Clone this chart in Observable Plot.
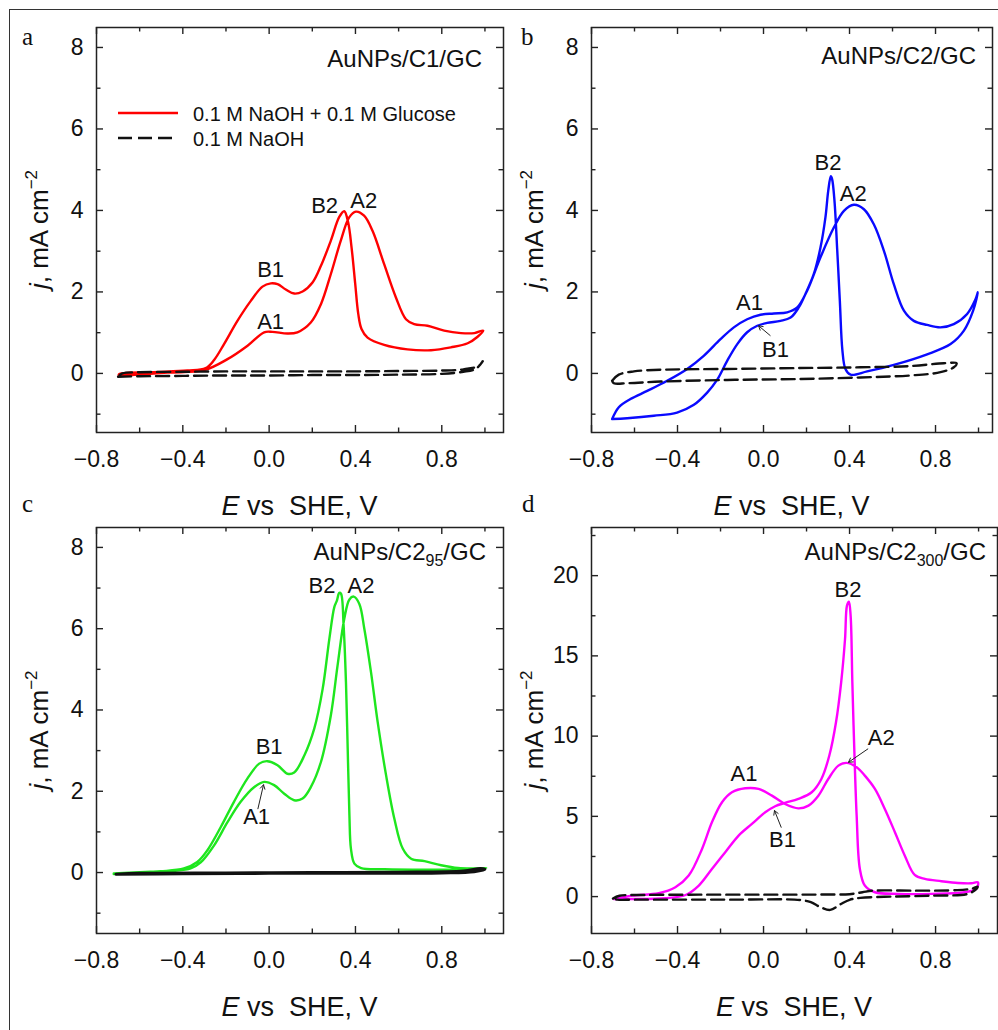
<!DOCTYPE html>
<html><head><meta charset="utf-8">
<script src="https://cdn.jsdelivr.net/npm/d3@7"></script>
<script src="https://cdn.jsdelivr.net/npm/@observablehq/plot@0.6"></script>
<style>
body{margin:0;background:#fff;}
#fig{position:relative;width:998px;height:1030px;overflow:hidden;background:#fff;}
#border{position:absolute;left:9px;top:9px;width:1010px;height:1040px;border:1.5px solid #333;box-sizing:border-box;}
.panel{position:absolute;}
.panel svg{overflow:visible;display:block;}
.panel text{white-space:pre;}
</style></head><body><div id="fig"><div id="border"></div></div>
<script>
// ---- tick values ----
const xMajor = [-0.8, -0.4, 0, 0.4, 0.8];
const xMinor = [-0.6, -0.2, 0.2, 0.6, 1.0];
const yMajorABC = [0, 2, 4, 6, 8];
const yMinorABC = [-1, 1, 3, 5, 7];
const yMajorD = [0, 5, 10, 15, 20];
const yMinorD = [2.5, 7.5, 12.5, 17.5, 22.5];

// ---- panel a: AuNPs/C1/GC  [E (V), j (mA cm-2)] ----
const aGlucose = [
  [-0.696,-0.06],[-0.471,0.02],[-0.301,0.08],[-0.193,0.35],[-0.100,0.68],[-0.023,1.01],[0.015,1.02],[0.085,0.98],
  [0.131,1.01],[0.193,1.25],[0.240,1.70],[0.286,2.44],[0.332,3.26],[0.371,3.83],[0.402,3.97],[0.440,3.87],
  [0.479,3.50],[0.533,2.68],[0.587,1.87],[0.634,1.33],[0.672,1.21],[0.734,1.17],[0.811,1.05],[0.889,0.99],
  [0.951,0.99],[0.992,1.05],
  [0.966,0.90],[0.920,0.74],[0.842,0.64],[0.750,0.57],[0.641,0.59],[0.533,0.70],[0.456,0.88],[0.428,1.09],
  [0.413,1.46],[0.399,2.19],[0.382,3.09],[0.366,3.71],[0.348,3.98],[0.325,3.84],[0.286,3.26],[0.240,2.64],
  [0.201,2.23],[0.155,2.01],[0.116,1.96],[0.077,2.06],[0.039,2.19],[0.008,2.21],[-0.031,2.13],[-0.085,1.78],
  [-0.147,1.29],[-0.209,0.72],[-0.255,0.33],[-0.294,0.13],[-0.379,0.07],[-0.549,0.03],[-0.696,-0.02],[-0.696,-0.06]
];
const aNaOH = [
  [-0.70,-0.08],[-0.6,-0.07],[-0.4,-0.06],[-0.2,-0.05],[0,-0.05],[0.2,-0.04],[0.4,-0.04],[0.6,-0.03],[0.8,-0.01],
  [0.9,0.04],[0.96,0.12],[0.99,0.30],[0.97,0.18],[0.9,0.10],[0.8,0.07],[0.6,0.06],[0.4,0.05],[0.2,0.05],[0,0.05],
  [-0.2,0.05],[-0.4,0.04],[-0.6,0.03],[-0.68,0.0],[-0.70,-0.08]
];
const aPeaks = [
  {label:"B2",E:0.257,j:3.94},{label:"A2",E:0.438,j:4.07},{label:"B1",E:0.007,j:2.37},{label:"A1",E:0.007,j:1.10}
];
const aArrows = [];

// ---- panel b: AuNPs/C2/GC ----
const bGlucose = [
  [-0.704,-1.12],[-0.673,-0.83],[-0.619,-0.63],[-0.541,-0.43],[-0.448,-0.18],[-0.355,0.11],[-0.278,0.43],[-0.200,0.84],
  [-0.138,1.13],[-0.076,1.33],[-0.014,1.44],[0.048,1.47],[0.110,1.50],[0.157,1.62],[0.203,2.03],[0.265,2.85],
  [0.327,3.58],[0.374,3.99],[0.420,4.14],[0.467,4.03],[0.513,3.66],[0.560,3.01],[0.606,2.19],[0.653,1.54],
  [0.699,1.29],[0.761,1.19],[0.823,1.13],[0.885,1.21],[0.947,1.46],[0.986,1.82],[0.997,1.99],
  [0.975,1.54],[0.932,1.05],[0.870,0.72],[0.761,0.47],[0.606,0.21],[0.482,0.05],[0.405,-0.03],[0.381,0.11],
  [0.367,0.56],[0.355,1.78],[0.343,3.01],[0.330,4.24],[0.319,4.77],[0.313,4.84],[0.301,4.48],[0.288,3.83],
  [0.265,3.09],[0.234,2.44],[0.195,1.95],[0.164,1.62],[0.126,1.37],[0.079,1.29],[0.017,1.24],[-0.029,1.17],
  [-0.076,1.01],[-0.122,0.72],[-0.169,0.31],[-0.216,-0.16],[-0.262,-0.47],[-0.324,-0.77],[-0.402,-0.96],
  [-0.510,-1.04],[-0.634,-1.10],[-0.704,-1.12]
];
const bNaOH = [
  [-0.704,-0.18],[-0.673,-0.03],[-0.603,0.05],[-0.479,0.09],[-0.169,0.11],[0.141,0.13],[0.451,0.15],[0.684,0.18],
  [0.839,0.25],[0.898,0.25],[0.885,0.15],[0.823,0.03],[0.684,-0.05],[0.451,-0.10],[0.141,-0.14],[-0.169,-0.16],
  [-0.479,-0.20],[-0.634,-0.24],[-0.696,-0.24],[-0.704,-0.18]
];
const bPeaks = [
  {label:"B2",E:0.300,j:4.99},{label:"A2",E:0.417,j:4.24},{label:"A1",E:-0.065,j:1.56},{label:"B1",E:0.056,j:0.41}
];
const bArrows = [{E1:0.031,j1:0.93,E2:-0.023,j2:1.17}];

// ---- panel c: AuNPs/C2_95/GC ----
const cGlucose = [
  [-0.720,-0.02],[-0.550,0.02],[-0.441,0.04],[-0.364,0.10],[-0.317,0.25],[-0.255,0.67],[-0.193,1.24],[-0.132,1.74],
  [-0.070,2.10],[-0.023,2.23],[0.023,2.15],[0.070,1.94],[0.116,1.78],[0.155,1.82],[0.193,2.10],[0.240,2.72],
  [0.286,3.87],[0.317,5.09],[0.348,6.24],[0.372,6.72],[0.392,6.79],[0.418,6.61],[0.441,6.00],[0.472,4.93],
  [0.503,3.70],[0.542,2.39],[0.580,1.33],[0.619,0.59],[0.658,0.34],[0.720,0.28],[0.797,0.18],[0.875,0.11],
  [0.952,0.10],[1.006,0.11],
  [0.921,0.08],[0.766,0.07],[0.534,0.08],[0.426,0.11],[0.395,0.22],[0.379,0.59],[0.372,1.41],[0.364,3.05],
  [0.356,4.68],[0.345,6.08],[0.333,6.86],[0.325,6.88],[0.314,6.69],[0.302,6.53],[0.279,5.75],[0.248,4.52],
  [0.209,3.54],[0.163,2.88],[0.116,2.46],[0.085,2.43],[0.039,2.64],[-0.008,2.74],[-0.046,2.68],[-0.101,2.31],
  [-0.163,1.74],[-0.224,1.12],[-0.286,0.55],[-0.333,0.26],[-0.395,0.10],[-0.503,0.03],[-0.627,-0.01],[-0.720,-0.04]
];
const cNaOH = [
  [-0.71,-0.04],[-0.4,-0.03],[0,-0.02],[0.4,-0.02],[0.8,-0.01],[0.95,0.02],[1.0,0.08],
  [0.98,0.10],[0.9,0.04],[0.6,0.01],[0.2,0.0],[-0.2,-0.01],[-0.6,-0.02],[-0.71,-0.04]
];
const cPeaks = [
  {label:"B2",E:0.245,j:6.88},{label:"A2",E:0.426,j:6.88},{label:"B1",E:0.0,j:2.92},{label:"A1",E:-0.058,j:1.20}
];
const cArrows = [{E1:-0.052,j1:1.57,E2:-0.026,j2:2.16}];

// ---- panel d: AuNPs/C2_300/GC ----
const dGlucose = [
  [-0.696,-0.15],[-0.611,0.06],[-0.487,0.21],[-0.410,0.58],[-0.348,1.31],[-0.286,2.97],[-0.240,4.63],[-0.193,5.88],
  [-0.147,6.50],[-0.085,6.75],[-0.023,6.71],[0.039,6.29],[0.100,5.77],[0.162,5.50],[0.209,5.67],[0.255,6.29],
  [0.301,7.33],[0.348,8.16],[0.386,8.33],[0.433,8.06],[0.471,7.54],[0.518,6.71],[0.564,5.46],[0.611,4.01],
  [0.657,2.55],[0.703,1.35],[0.750,1.10],[0.827,0.96],[0.904,0.85],[0.966,0.83],[0.997,0.89],
  [0.989,0.48],[0.935,0.27],[0.781,0.17],[0.626,0.17],[0.518,0.27],[0.471,0.69],[0.448,1.72],[0.433,5.05],
  [0.422,9.20],[0.413,13.35],[0.405,17.51],[0.397,18.38],[0.388,18.13],[0.379,16.05],[0.361,13.35],[0.337,10.86],
  [0.306,8.79],[0.269,7.33],[0.224,6.50],[0.162,6.09],[0.100,5.84],[0.054,5.63],[0.008,5.25],[-0.054,4.53],
  [-0.116,3.80],[-0.178,2.76],[-0.240,1.72],[-0.301,0.69],[-0.363,0.10],[-0.456,-0.10],[-0.611,-0.15],[-0.696,-0.15]
];
const dNaOH = [
  [-0.70,-0.12],[-0.67,0.05],[-0.55,0.10],[-0.3,0.12],[0.0,0.12],[0.3,0.13],[0.40,0.15],[0.46,0.27],[0.51,0.37],
  [0.7,0.37],[0.9,0.40],[0.97,0.50],[0.995,0.62],[0.99,0.48],[0.95,0.17],[0.79,0.06],[0.6,0.0],[0.45,-0.08],
  [0.40,-0.20],[0.36,-0.46],[0.31,-0.83],[0.265,-0.66],[0.22,-0.35],[0.17,-0.21],[-0.14,-0.19],[-0.6,-0.19],
  [-0.68,-0.19],[-0.70,-0.12]
];
const dPeaks = [
  {label:"B2",E:0.393,j:18.69},{label:"A2",E:0.547,j:9.45},{label:"A1",E:-0.091,j:7.23},{label:"B1",E:0.088,j:3.12}
];
const dArrows = [{E1:0.082,j1:4.32,E2:0.051,j2:5.36},{E1:0.485,j1:9.2,E2:0.395,j2:8.37}];

const seriesLabels = ["0.1 M NaOH + 0.1 M Glucose", "0.1 M NaOH"];

const FONT = "'Liberation Sans', Arimo, Arial, sans-serif";
const SERIF = "'Liberation Serif', 'Times New Roman', serif";
const INK = "#111";
const fmtX = d3.format(".1f");
const rows = arr => arr.map(([E, j]) => ({E, j}));

function panel(cfg) {
  const {left, top, width, height, mL, mR, mT, mB, xDomain, yDomain, yMajor, yMinor,
         glucose, naoh, color, naohSolid, peaks, arrows, title, sub, letter, letterPos, legend} = cfg;
  const fw = width - mL - mR, fh = height - mT - mB;
  const T = 7, t = 4.5, sw = 1.4, tc = "#222";
  const svg = Plot.plot({
    width, height, marginLeft: mL, marginRight: mR, marginTop: mT, marginBottom: mB,
    x: {domain: xDomain, axis: null},
    y: {domain: yDomain, axis: null},
    style: {background: "transparent", overflow: "visible", fontFamily: FONT, fontSize: "23px", color: INK},
    marks: [
      Plot.line(rows(glucose), {x: "E", y: "j", stroke: color, strokeWidth: 2.4, curve: "catmull-rom"}),
      Plot.line(rows(naoh), {x: "E", y: "j", stroke: "#111", strokeWidth: naohSolid ? 3 : 2.4,
        strokeDasharray: naohSolid ? null : "13,6", curve: "catmull-rom"}),
      // inward ticks on all four sides
      Plot.tickX(xMajor, {x: d => d, insetTop: fh - T, stroke: tc, strokeWidth: sw}),
      Plot.tickX(xMinor, {x: d => d, insetTop: fh - t, stroke: tc, strokeWidth: sw}),
      Plot.tickX(xMajor, {x: d => d, insetBottom: fh - T, stroke: tc, strokeWidth: sw}),
      Plot.tickX(xMinor, {x: d => d, insetBottom: fh - t, stroke: tc, strokeWidth: sw}),
      Plot.tickY(yMajor, {y: d => d, insetRight: fw - T, stroke: tc, strokeWidth: sw}),
      Plot.tickY(yMinor, {y: d => d, insetRight: fw - t, stroke: tc, strokeWidth: sw}),
      Plot.tickY(yMajor, {y: d => d, insetLeft: fw - T, stroke: tc, strokeWidth: sw}),
      Plot.tickY(yMinor, {y: d => d, insetLeft: fw - t, stroke: tc, strokeWidth: sw}),
      Plot.frame({stroke: tc, strokeWidth: 1.5}),
      Plot.text(xMajor, {x: d => d, frameAnchor: "bottom", dy: 34, lineAnchor: "bottom", text: d => fmtX(d), fontSize: 23, fill: INK}),
      Plot.text(yMajor, {y: d => d, frameAnchor: "left", dx: -13, textAnchor: "end", text: d => String(d), fontSize: 23, fill: INK}),
      Plot.text(peaks, {x: "E", y: "j", text: "label", lineAnchor: "bottom", fontSize: 22, fill: INK}),
      Plot.arrow(arrows, {x1: "E1", y1: "j1", x2: "E2", y2: "j2", stroke: "#222", strokeWidth: 1, headLength: 7})
    ]
  });
  const s = d3.select(svg);
  // x axis title
  const xl = s.append("text").attr("x", mL + fw / 2).attr("y", mT + fh + 83)
    .attr("text-anchor", "middle").attr("font-size", 27).attr("fill", INK).attr("font-family", FONT);
  xl.append("tspan").attr("font-style", "italic").text("E");
  xl.append("tspan").text(" vs  SHE, V");
  // y axis title
  const yl = s.append("text").attr("transform", `translate(${mL - 48},${mT + fh / 2}) rotate(-90)`)
    .attr("text-anchor", "middle").attr("font-size", 26).attr("fill", INK).attr("font-family", FONT);
  yl.append("tspan").attr("font-style", "italic").text("j");
  yl.append("tspan").text(", mA cm");
  yl.append("tspan").attr("font-size", 17).attr("dy", -11).text("\u22122");
  // sample title
  const tt = s.append("text").attr("x", mL + fw - title.dx).attr("y", mT + title.dy)
    .attr("text-anchor", "end").attr("font-size", 24).attr("fill", INK).attr("font-family", FONT);
  if (sub) {
    tt.append("tspan").text(title.text);
    tt.append("tspan").attr("font-size", 16).attr("dy", 6).text(sub);
    tt.append("tspan").attr("dy", -6).text("/GC");
  } else {
    tt.text(title.text);
  }
  // panel letter
  s.append("text").attr("x", letterPos[0]).attr("y", letterPos[1]).attr("font-size", 25)
    .attr("text-anchor", "start").attr("font-family", SERIF).attr("fill", INK).text(letter);
  // legend
  if (legend) {
    const g = s.append("g");
    g.append("line").attr("x1", 118).attr("x2", 178).attr("y1", 113).attr("y2", 113)
      .attr("stroke", color).attr("stroke-width", 2.4);
    g.append("text").attr("x", 193).attr("y", 121).attr("font-size", 20).attr("fill", INK)
      .attr("text-anchor", "start").attr("font-family", FONT).text(seriesLabels[0]);
    g.append("line").attr("x1", 118).attr("x2", 175).attr("y1", 138).attr("y2", 138)
      .attr("stroke", "#111").attr("stroke-width", 2.4).attr("stroke-dasharray", "14,6");
    g.append("text").attr("x", 193).attr("y", 146).attr("font-size", 20).attr("fill", INK)
      .attr("text-anchor", "start").attr("font-family", FONT).text(seriesLabels[1]);
  }
  const div = document.createElement("div");
  div.className = "panel";
  div.style.left = left + "px";
  div.style.top = top + "px";
  div.style.width = width + "px";
  div.style.height = height + "px";
  div.appendChild(svg);
  document.getElementById("fig").appendChild(div);
}

panel({left: 0, top: 0, width: 510, height: 515, mL: 96, mR: 7, mT: 27, mB: 83,
  xDomain: [-0.8, 1.086], yDomain: [-1.45, 8.49], yMajor: yMajorABC, yMinor: yMinorABC,
  glucose: aGlucose, naoh: aNaOH, color: "#ff0000", peaks: aPeaks, arrows: aArrows,
  title: {text: "AuNPs/C1/GC", dx: 21, dy: 40}, letter: "a", letterPos: [22, 45], legend: true});

panel({left: 495, top: 0, width: 503, height: 515, mL: 96, mR: 6, mT: 27, mB: 83,
  xDomain: [-0.8, 1.065], yDomain: [-1.45, 8.49], yMajor: yMajorABC, yMinor: yMinorABC,
  glucose: bGlucose, naoh: bNaOH, color: "#0a0aff", peaks: bPeaks, arrows: bArrows,
  title: {text: "AuNPs/C2/GC", dx: 16, dy: 37}, letter: "b", letterPos: [26, 45]});

panel({left: 0, top: 500, width: 510, height: 530, mL: 96, mR: 7, mT: 27, mB: 97,
  xDomain: [-0.8, 1.086], yDomain: [-1.5, 8.49], yMajor: yMajorABC, yMinor: yMinorABC,
  glucose: cGlucose, naoh: cNaOH, naohSolid: true, color: "#1ee61e", peaks: cPeaks, arrows: cArrows,
  title: {text: "AuNPs/C2", dx: 17, dy: 33}, sub: "95", letter: "c", letterPos: [22, 12]});

panel({left: 495, top: 500, width: 503, height: 530, mL: 96, mR: 1, mT: 27, mB: 97,
  xDomain: [-0.8, 1.088], yDomain: [-2.3, 23.0], yMajor: yMajorD, yMinor: yMinorD,
  glucose: dGlucose, naoh: dNaOH, color: "#ff00ff", peaks: dPeaks, arrows: dArrows,
  title: {text: "AuNPs/C2", dx: 11, dy: 33}, sub: "300", letter: "d", letterPos: [27, 12]});
</script></body></html>
